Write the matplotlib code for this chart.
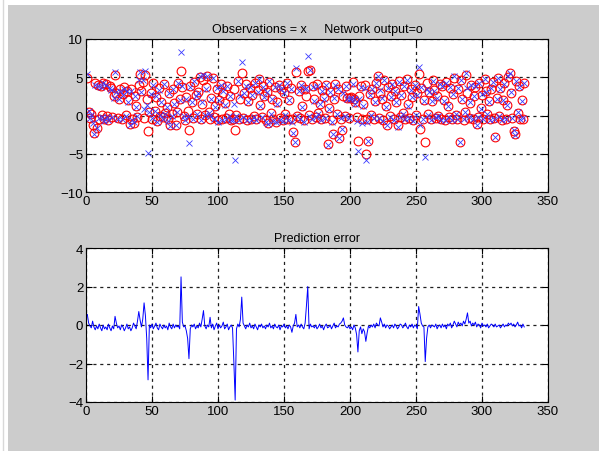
import numpy as np
import matplotlib
matplotlib.use('Agg')
import matplotlib.pyplot as plt
from matplotlib.patches import Rectangle
from matplotlib.lines import Line2D

# network output (circles), one value per sample 1..332
net_out = [
    4.9, 0.5, -0.3, 0.2, -1.2, -2.3, 4.2, -1.6, 4.0, -0.4,
    3.9, 0.1, 4.3, -0.5, 4.1, 0.0, -0.6, 3.8, 3.6, -0.2,
    2.5, 5.3, 3.0, -0.3, 2.2, 3.4, -0.5, 2.8, 3.7, 0.1,
    3.2, 2.0, -1.1, 3.5, -0.4, -1.0, 2.6, 1.3, -0.2, 4.0,
    5.4, 3.2, 4.4, -0.3, 5.3, 2.1, -2.0, 0.4, 3.0, -0.4,
    4.2, 0.6, 2.4, -0.7, 3.6, 0.0, 1.8, -0.2, 4.1, 0.3,
    1.1, -0.5, 2.9, -1.3, 0.2, 3.4, 1.6, -1.3, 0.5, 4.3,
    2.2, 5.8, 3.7, 0.0, -0.6, 2.4, 0.6, -1.9, 3.9, 1.8,
    -0.3, 4.4, 2.7, 0.2, 3.1, 5.0, -0.5, 1.5, 4.6, 0.1,
    3.7, 5.2, 0.4, -0.4, 2.3, 4.9, -0.2, 1.2, 3.5, -0.6,
    2.0, 4.1, -0.5, 3.0, 1.6, -0.3, 3.8, 0.2, 2.6, -0.6,
    -0.4, 3.4, -1.95, 0.1, 4.5, -0.5, 2.2, 5.5, -0.3, 3.0,
    4.1, -0.6, 1.9, 3.6, -0.4, 2.7, 0.0, 4.2, -0.5, 3.3,
    4.8, 1.4, -0.2, 3.9, 2.5, -0.6, 3.1, -1.0, 4.4, 0.3,
    2.2, -0.5, 3.7, -0.8, 1.7, 4.0, -0.3, 3.5, -0.6, 2.9,
    0.2, 4.3, -0.4, 2.0, 3.6, -0.5, -2.2, -3.5, 5.65, 0.0,
    3.2, -0.3, 4.0, 1.2, -0.6, 3.4, 2.6, 5.8, 0.1, 5.9,
    -0.4, 3.8, 2.1, -0.2, 4.1, 0.3, 1.5, -0.5, 3.3, 2.4,
    -0.3, 4.0, -3.7, 1.0, 3.1, -0.6, -2.4, 2.2, 4.1, 0.2,
    3.5, -3.0, -0.4, -1.95, 2.6, 0.0, 3.9, 2.3, -0.3, 2.3,
    2.4, 4.4, 2.2, 1.7, -0.2, -3.3, 2.5, 3.8, -0.5, 1.5,
    4.0, -5.0, -0.5, -3.3, 2.8, 0.1, 3.5, -0.4, 1.9, 4.2,
    5.2, -0.3, 3.0, 2.2, -0.6, 4.6, 1.3, -1.3, 3.7, 0.0,
    2.5, 4.1, -0.4, 3.2, 1.8, -1.3, 4.5, -0.2, 2.7, 0.3,
    3.9, -0.5, 4.8, 1.5, -0.3, 3.4, 2.4, -0.6, 4.0, 0.1,
    2.9, 5.4, -1.75, 3.6, -0.4, 2.0, -3.5, 4.2, 0.2, 3.1,
    -0.5, 1.9, 4.6, 3.3, -0.3, 2.5, 0.0, 4.1, -0.4, 3.8,
    2.0, -0.6, 4.4, 1.2, -0.2, 3.6, -0.5, 2.8, 4.9, 0.1,
    -0.4, 3.5, -3.5, 4.6, 2.2, -0.6, 0.4, 5.3, 3.0, -0.3,
    1.6, 4.0, -0.5, 2.6, 3.7, -1.1, -0.2, 4.3, 1.0, 2.7,
    -0.4, 4.8, 3.2, 0.2, 1.9, -0.5, 3.5, 4.4, -0.3, -2.8,
    2.3, 4.9, 0.0, 3.6, -0.6, 2.0, 4.2, -0.4, 1.4, 5.0,
    5.6, 3.0, -0.3, -2.0, -2.4, 4.5, 0.3, 3.8, -0.5, 2.0,
    -0.4, 4.3,
]

pred_err = [
    0.55, 0.1, -0.05, -0.15, 0.2, -0.1, -0.25, -0.05, -0.2, 0.05,
    -0.15, -0.3, 0.0, -0.2, -0.1, -0.25, 0.05, -0.15, -0.3, -0.05,
    -0.2, 0.45, 0.1, -0.15, -0.05, -0.25, 0.0, -0.1, -0.3, -0.15,
    0.05, -0.2, -0.1, -0.3, -0.15, 0.1, -0.05, -0.2, 0.2, 0.7,
    0.25, -0.1, 0.3, 1.15, 0.5, -0.7, -2.85, 0.0, -0.15, 0.05,
    -0.2, -0.05, 0.1, -0.15, -0.25, 0.05, -0.1, -0.2, 0.0, -0.15,
    -0.05, -0.25, 0.1, -0.1, -0.2, 0.05, -0.15, 0.0, -0.1, -0.05,
    -0.2, 2.5, 0.15, -0.1, -0.05, -0.3, -0.7, -1.75, -0.2, 0.0,
    -0.1, 0.05, -0.2, -0.05, -0.15, 0.1, -0.1, 0.3, 0.75, -0.05,
    -0.2, 0.0, -0.1, 0.4, -0.15, 0.05, -0.25, -0.05, 0.1, -0.2,
    0.0, -0.15, -0.05, 0.15, -0.2, -0.1, 0.05, -0.25, -0.1, 0.0,
    -0.15, -1.9, -3.9, -0.2, 0.05, -0.1, 0.3, 1.45, 0.1, -0.05,
    -0.2, 0.0, -0.1, 0.1, -0.15, -0.05, -0.2, 0.05, -0.1, -0.25,
    0.0, -0.1, 0.05, -0.15, -0.05, -0.2, 0.0, -0.1, 0.1, -0.15,
    -0.05, -0.2, 0.05, -0.1, -0.15, 0.0, -0.25, -0.05, -0.1, 0.05,
    -0.15, -0.05, -0.2, 0.0, -0.1, -0.38, -0.05, 0.1, 0.55, -0.1,
    0.0, -0.15, 0.05, -0.1, -0.2, 0.1, 1.0, 2.0, -0.2, 0.05,
    -0.1, -0.05, -0.15, 0.0, -0.2, -0.1, 0.05, -0.15, -0.05, -0.25,
    -0.05, 0.05, -0.15, -0.1, 0.0, -0.2, -0.05, 0.1, -0.15, -0.05,
    -0.1, 0.05, 0.1, 0.2, 0.37, 0.0, -0.1, -0.15, -0.05, -0.2,
    -0.1, -0.25, 0.0, -0.15, -0.5, -1.4, -0.3, -0.1, -0.45, -0.2,
    -0.35, -0.85, -0.4, -0.05, -0.15, 0.0, -0.1, 0.05, -0.15, 0.1,
    0.0, -0.05, 0.37, 0.15, -0.1, 0.05, -0.15, 0.0, -0.05, -0.2,
    -0.1, 0.0, -0.15, 0.05, -0.05, -0.2, -0.1, 0.05, 0.0, -0.15,
    -0.05, 0.1, -0.1, -0.2, 0.0, -0.1, 0.05, -0.15, 0.0, -0.05,
    -0.2, 0.96, 0.57, 0.1, -0.05, -0.1, -1.9, -0.7, -0.1, 0.0,
    -0.15, 0.0, -0.05, -0.1, 0.05, -0.2, -0.05, 0.0, -0.15, 0.05,
    -0.1, 0.0, -0.2, 0.05, -0.05, 0.1, -0.15, 0.0, 0.2, 0.05,
    -0.1, 0.15, 0.0, 0.1, -0.05, 0.2, 0.05, 0.3, 0.63, 0.1,
    0.2, -0.05, 0.1, 0.0, 0.15, -0.1, 0.05, 0.0, -0.15, 0.1,
    -0.05, 0.0, -0.1, 0.05, -0.15, -0.05, 0.05, 0.0, -0.1, 0.05,
    -0.1, -0.05, 0.0, -0.15, -0.05, 0.05, -0.1, 0.0, -0.05, 0.1,
    0.0, 0.1, -0.05, 0.05, -0.1, 0.0, 0.15, -0.05, 0.0, -0.15,
    0.05, -0.1,
]

net_out = np.array(net_out)
pred_err = np.array(pred_err)
observations = net_out + pred_err
samples = np.arange(1, len(net_out) + 1)

plt.rcParams['font.family'] = ['Liberation Sans', 'DejaVu Sans']

fig = plt.figure(figsize=(5.99, 4.52), dpi=100)
fig.patch.set_facecolor('white')
# grey MATLAB figure window
fig.patches.append(Rectangle((8 / 599, 0), 1, 446 / 452, transform=fig.transFigure,
                             facecolor='#cccccc', edgecolor='none', zorder=-10))
fig.lines.append(Line2D([2.5 / 599, 2.5 / 599], [0, 1], transform=fig.transFigure,
                        color='#d8d8d8', linewidth=1.0))

ax1 = fig.add_axes([86 / 599, 259 / 452, 462 / 599, 153 / 452])
ax2 = fig.add_axes([86 / 599, 49 / 452, 462 / 599, 154 / 452])


def matlab_style(ax):
    ax.set_facecolor('white')
    ax.set_xlim(0, 350)
    ax.set_xticks(range(0, 351, 50))
    ax.grid(True, color='#202020', linestyle=(0, (2.5, 3)), linewidth=0.9)
    ax.set_axisbelow(True)
    ax.tick_params(direction='in', top=True, right=True, length=4,
                   labelsize=9.5, pad=2, width=0.8)
    for s in ax.spines.values():
        s.set_linewidth(0.8)


ax1.plot(samples, net_out, 'o', markerfacecolor='none', markeredgecolor='red',
         markersize=6.3, markeredgewidth=0.8)
ax1.plot(samples, observations, 'x', color='#3a3aff', markersize=4.5,
         markeredgewidth=0.6)
matlab_style(ax1)
ax1.set_ylim(-10, 10)
ax1.set_yticks([-10, -5, 0, 5, 10])
ax1.set_title('Observations = x     Network output=o', fontsize=9, pad=5)

ax2.plot(samples, pred_err, color='blue', linewidth=0.7)
matlab_style(ax2)
ax2.set_ylim(-4, 4)
ax2.set_yticks([-4, -2, 0, 2, 4])
ax2.set_title('Prediction error', fontsize=9, pad=5)

fig.savefig('out.png', dpi=100, facecolor=fig.get_facecolor())
